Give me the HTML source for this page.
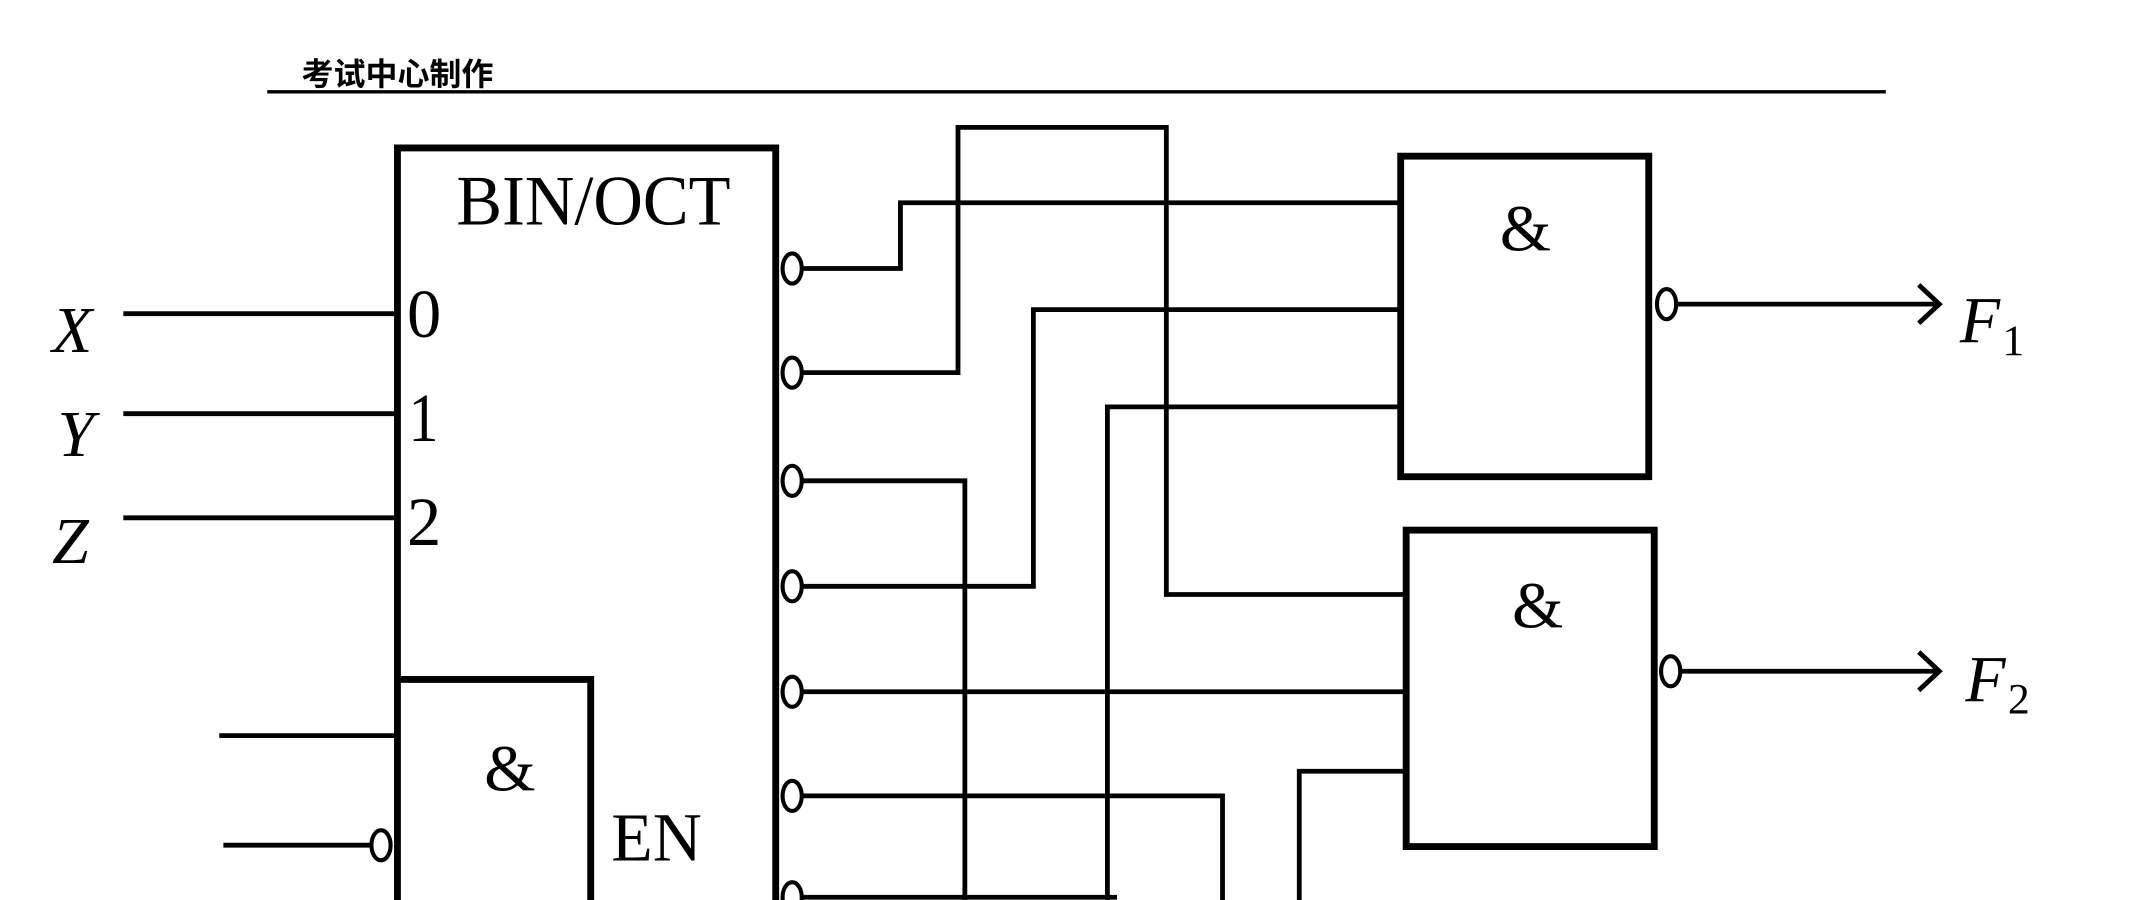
<!DOCTYPE html>
<html><head><meta charset="utf-8"><style>html,body{margin:0;padding:0;background:#fff;width:2149px;height:900px;overflow:hidden}</style></head>
<body>
<svg width="2149" height="900" viewBox="0 0 1568 657" xmlns="http://www.w3.org/2000/svg" preserveAspectRatio="none">
<g font-family="'Liberation Serif', serif" fill="#000">
<text x="220" y="62" font-family="'Liberation Sans','Noto Sans CJK SC',sans-serif" font-weight="bold" font-size="23" textLength="140" lengthAdjust="spacingAndGlyphs">考试中心制作</text>
<text x="333" y="164" font-size="52" textLength="200" lengthAdjust="spacingAndGlyphs">BIN/OCT</text>
<text x="38" y="257" font-size="48" font-style="italic">X</text>
<text x="42" y="333" font-size="48" font-style="italic">Y</text>
<text x="38" y="411" font-size="48" font-style="italic">Z</text>
<text x="297" y="246" font-size="50" textLength="25" lengthAdjust="spacingAndGlyphs">0</text>
<text x="298" y="322" font-size="50" textLength="22" lengthAdjust="spacingAndGlyphs">1</text>
<text x="297" y="398" font-size="50" textLength="25" lengthAdjust="spacingAndGlyphs">2</text>
<text x="372" y="577" font-size="48" text-anchor="middle">&amp;</text>
<text x="446" y="628" font-size="50" textLength="66" lengthAdjust="spacingAndGlyphs">EN</text>
<text x="1113" y="183" font-size="48" text-anchor="middle">&amp;</text>
<text x="1122" y="458" font-size="48" text-anchor="middle">&amp;</text>
<text x="1430" y="250" font-size="48" font-style="italic">F</text><text x="1461" y="259" font-size="32">1</text>
<text x="1434" y="512" font-size="48" font-style="italic">F</text><text x="1465" y="521" font-size="32">2</text>
</g>
<g stroke="#000" fill="none">
<line x1="195" y1="67" x2="1376" y2="67" stroke-width="2.5"/>
<g stroke-width="5">
<polyline points="290,660 290,108 566,108 566,660"/>
<polyline points="290,496 431,496 431,660"/>
<rect x="1022" y="114" width="181" height="234"/>
<rect x="1026" y="387" width="181" height="231"/>
</g>
<g stroke-width="3.5">
<line x1="90" y1="229" x2="290" y2="229"/>
<line x1="90" y1="302" x2="290" y2="302"/>
<line x1="90" y1="378" x2="290" y2="378"/>
<line x1="160" y1="537" x2="290" y2="537"/>
<line x1="163" y1="617" x2="270" y2="617"/>
<polyline points="586,196 657,196 657,148 1022,148"/>
<polyline points="586,272 699,272 699,93 851,93 851,434 1026,434"/>
<polyline points="586,351 704,351 704,660"/>
<polyline points="586,428 754,428 754,226 1022,226"/>
<line x1="586" y1="505" x2="1026" y2="505"/>
<polyline points="586,581 892,581 892,660"/>
<line x1="586" y1="655" x2="815" y2="655"/>
<polyline points="808,660 808,297 1024,297"/>
<polyline points="948,660 948,563 1026,563"/>
<line x1="1224" y1="222" x2="1415" y2="222"/>
<polyline points="1400,208 1415,222 1400,236"/>
<line x1="1227" y1="490" x2="1415" y2="490"/>
<polyline points="1400,476 1415,490 1400,504"/>
</g>
<g stroke-width="3">
<ellipse cx="578" cy="196" rx="7" ry="11"/>
<ellipse cx="578" cy="272" rx="7" ry="11"/>
<ellipse cx="578" cy="351" rx="7" ry="11"/>
<ellipse cx="578" cy="428" rx="7" ry="11"/>
<ellipse cx="578" cy="505" rx="7" ry="11"/>
<ellipse cx="578" cy="581" rx="7" ry="11"/>
<ellipse cx="578" cy="655" rx="7" ry="11"/>
<ellipse cx="278" cy="617" rx="7" ry="11"/>
<ellipse cx="1216" cy="222" rx="7" ry="11"/>
<ellipse cx="1219" cy="490" rx="7" ry="11"/>
</g>
</g>
</svg>
</body></html>
